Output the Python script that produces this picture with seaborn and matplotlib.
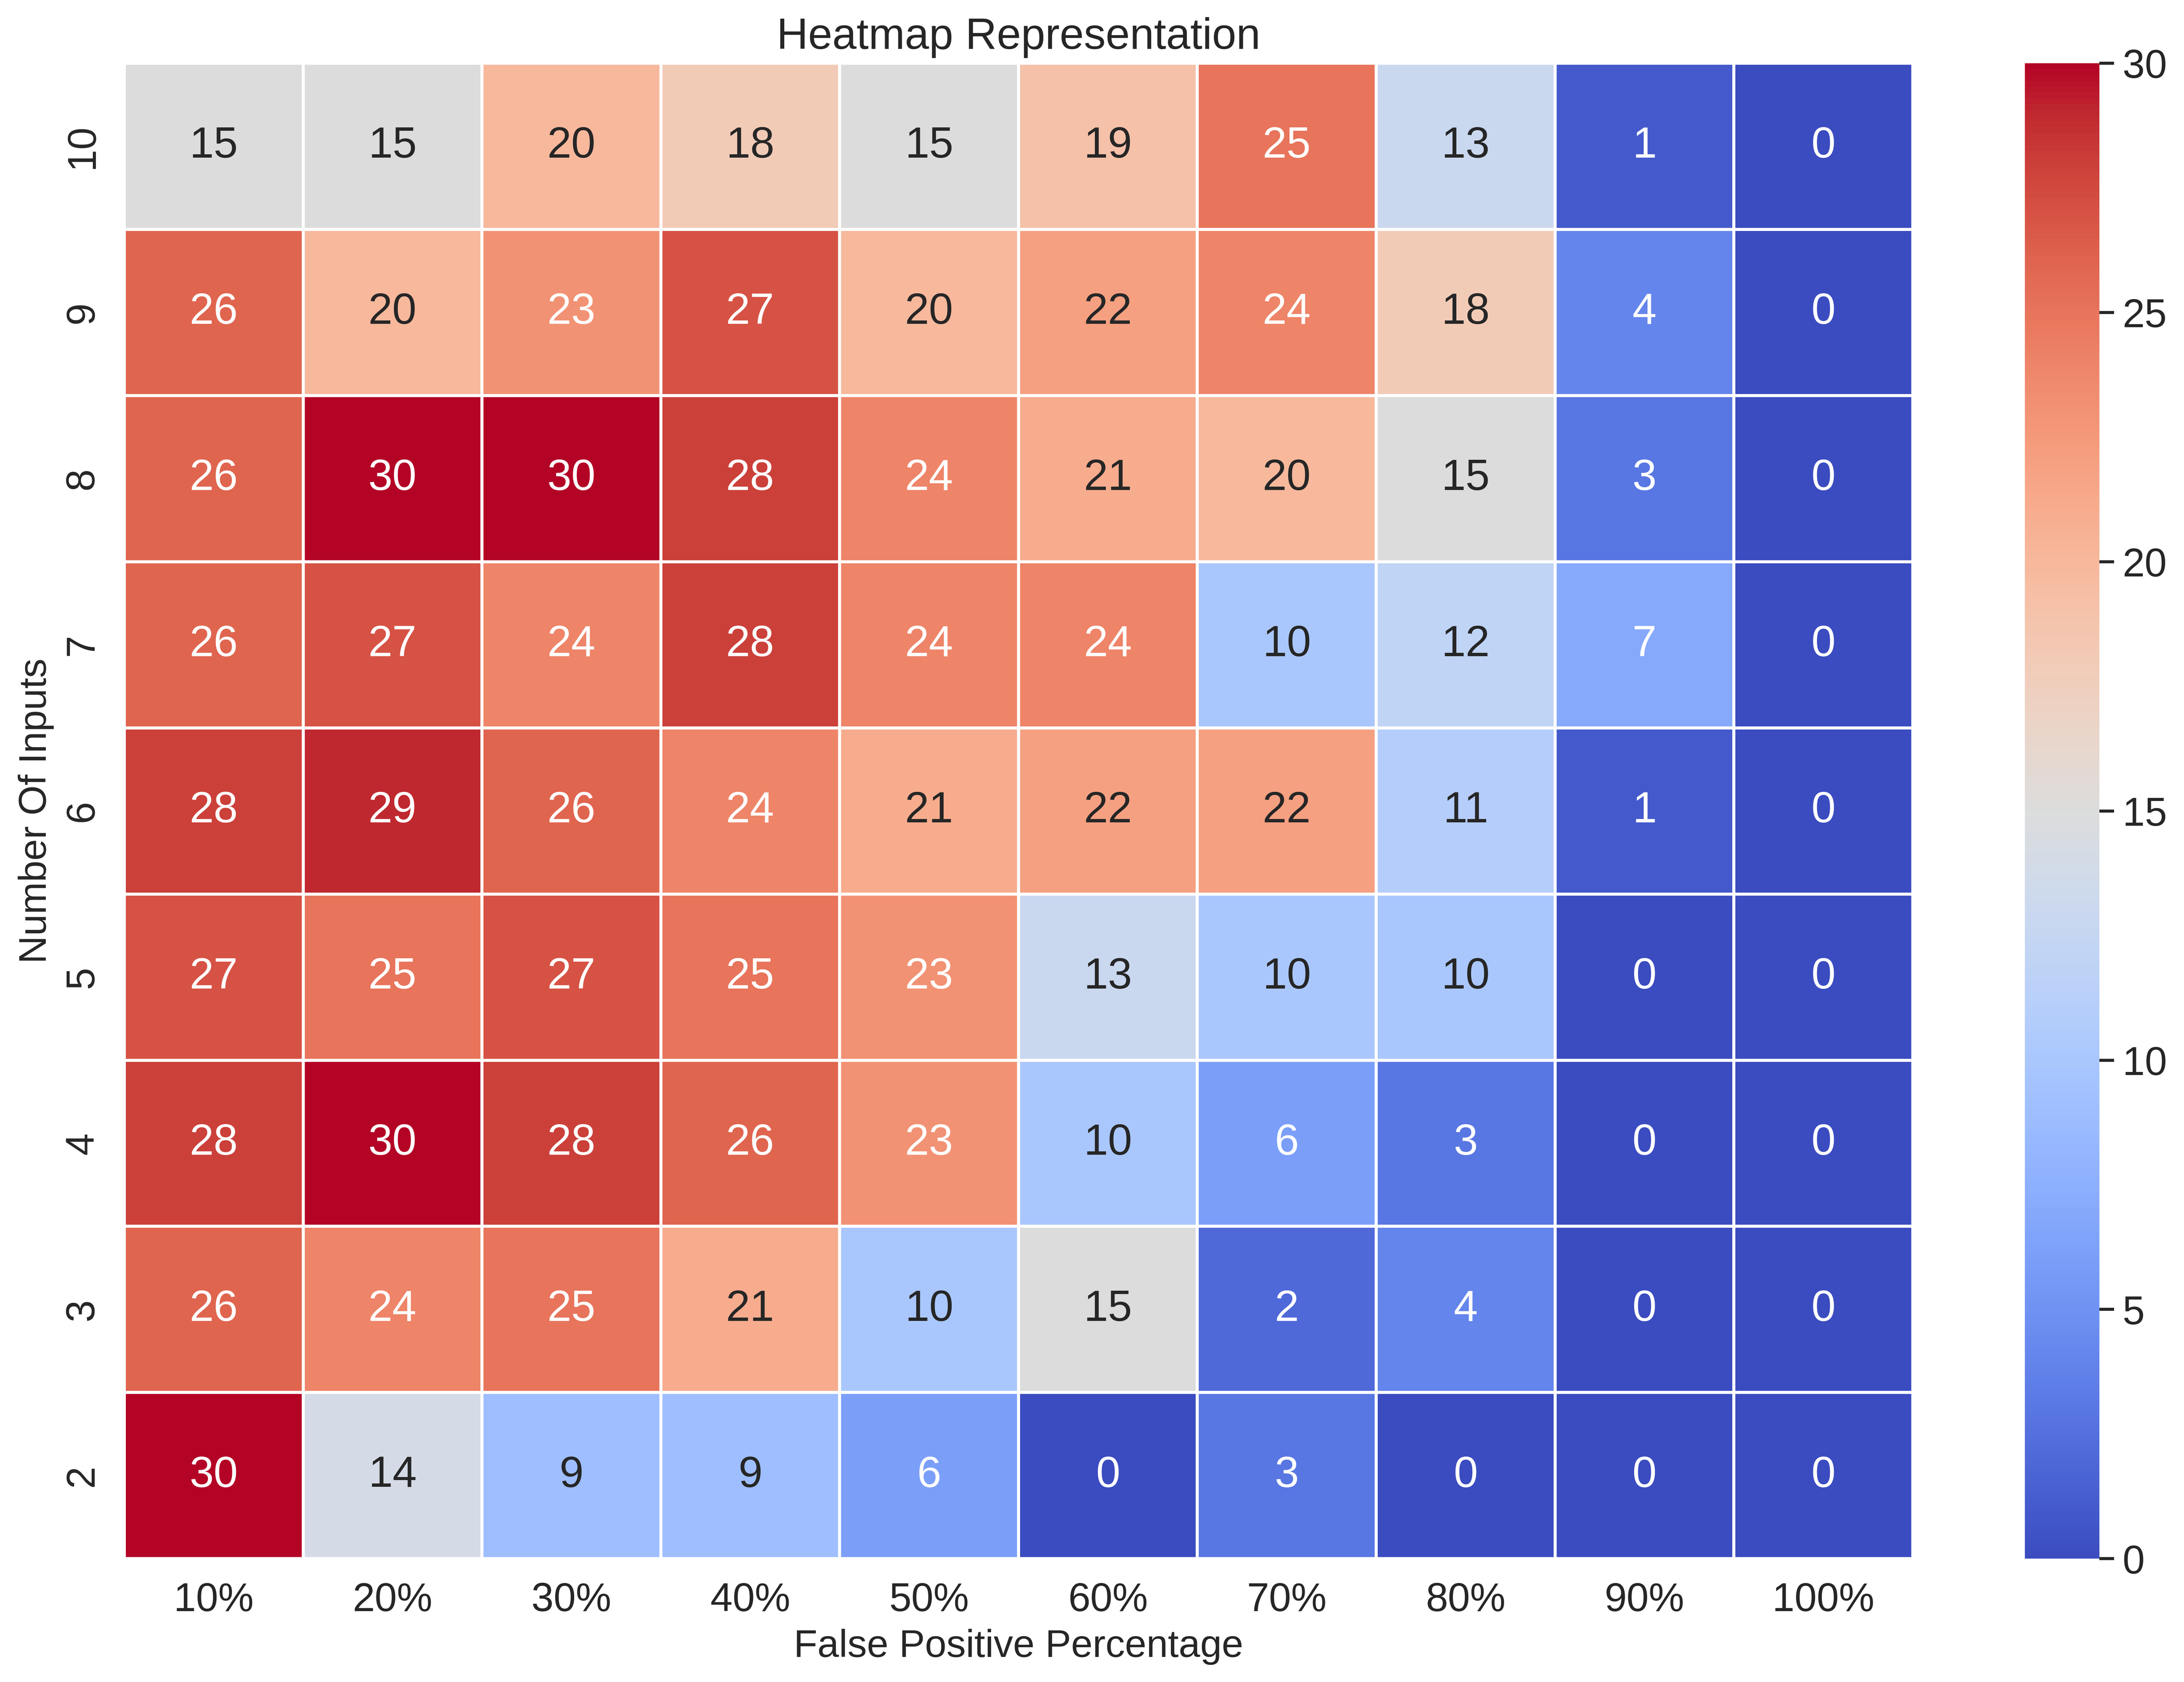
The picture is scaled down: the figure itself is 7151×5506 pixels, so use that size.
import matplotlib
matplotlib.use("Agg")
import matplotlib.pyplot as plt
import pandas as pd
import seaborn as sns

inputs = [10, 9, 8, 7, 6, 5, 4, 3, 2]
fp_labels = ["10%", "20%", "30%", "40%", "50%", "60%", "70%", "80%", "90%", "100%"]

row_10 = [15, 15, 20, 18, 15, 19, 25, 13, 1, 0]
row_9 = [26, 20, 23, 27, 20, 22, 24, 18, 4, 0]
row_8 = [26, 30, 30, 28, 24, 21, 20, 15, 3, 0]
row_7 = [26, 27, 24, 28, 24, 24, 10, 12, 7, 0]
row_6 = [28, 29, 26, 24, 21, 22, 22, 11, 1, 0]
row_5 = [27, 25, 27, 25, 23, 13, 10, 10, 0, 0]
row_4 = [28, 30, 28, 26, 23, 10, 6, 3, 0, 0]
row_3 = [26, 24, 25, 21, 10, 15, 2, 4, 0, 0]
row_2 = [30, 14, 9, 9, 6, 0, 3, 0, 0, 0]

df = pd.DataFrame(
    [row_10, row_9, row_8, row_7, row_6, row_5, row_4, row_3, row_2],
    index=inputs, columns=fp_labels,
)

sns.set_theme(style="white", font_scale=1.5)
plt.rcParams["font.family"] = ["Liberation Sans", "DejaVu Sans"]

fig = plt.figure(figsize=(12.547, 9.66))
ax = fig.add_axes([0.0569, 0.0733, 0.8188, 0.8891])
cax = fig.add_axes([0.9271, 0.0733, 0.0341, 0.8891])

sns.heatmap(df, annot=True, fmt="d", cmap="coolwarm", linewidths=1.2,
            linecolor="white", ax=ax, cbar_ax=cax)
ax.set_title("Heatmap Representation")
ax.set_xlabel("False Positive Percentage", fontsize=16)
ax.set_ylabel("Number Of Inputs", fontsize=16)

# 600 dpi would match the reference exactly, but the reader caps images at 40M pixels
fig.savefig("out.png", dpi=570)
